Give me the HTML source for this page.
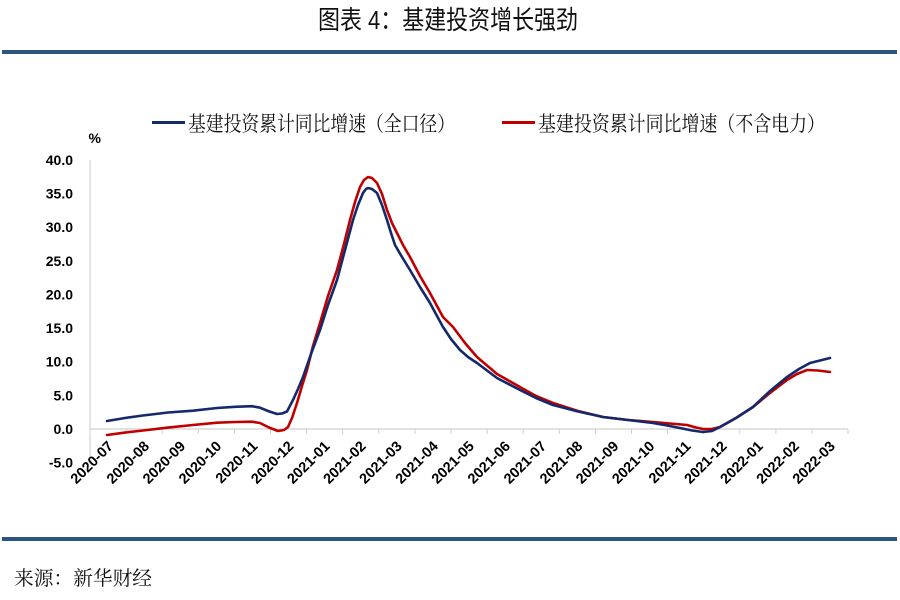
<!DOCTYPE html>
<html>
<head>
<meta charset="utf-8">
<style>
html,body{margin:0;padding:0;background:#fff;}
body{width:900px;height:600px;overflow:hidden;}
svg{display:block;}
.yl{font-family:"Liberation Sans",sans-serif;font-weight:bold;font-size:14px;fill:#000;text-anchor:end;}
.xl{font-family:"Liberation Sans",sans-serif;font-weight:bold;font-size:14.5px;fill:#000;text-anchor:end;}
.cjk{font-family:"Noto Serif CJK SC","Liberation Serif",serif;fill:#111;}
.ttl{font-family:"Liberation Sans","Noto Sans CJK SC",sans-serif;fill:#111;}
</style>
</head>
<body>
<svg width="900" height="600" viewBox="0 0 900 600" xmlns="http://www.w3.org/2000/svg">
<rect x="0" y="0" width="900" height="600" fill="#fff"/>
<!-- title -->
<text class="ttl" x="318" y="29" font-size="26" textLength="260" lengthAdjust="spacingAndGlyphs">图表 4：基建投资增长强劲</text>
<rect x="2" y="50" width="895" height="4" fill="#2a5580"/>
<!-- legend -->
<line x1="152" y1="122.5" x2="185" y2="122.5" stroke="#13296b" stroke-width="3"/>
<text class="cjk" x="188" y="131" font-size="21" textLength="267" lengthAdjust="spacingAndGlyphs">基建投资累计同比增速（全口径）</text>
<line x1="502" y1="122.5" x2="535" y2="122.5" stroke="#c00000" stroke-width="3"/>
<text class="cjk" x="538" y="131" font-size="21" textLength="287" lengthAdjust="spacingAndGlyphs">基建投资累计同比增速（不含电力）</text>
<!-- % -->
<text class="yl" x="101" y="143" style="text-anchor:end">%</text>
<!-- y axis -->
<line x1="90" y1="160" x2="90" y2="462" stroke="#c8c8c8" stroke-width="1"/>
<text class="yl" x="73" y="165">40.0</text>
<text class="yl" x="73" y="198.6">35.0</text>
<text class="yl" x="73" y="232.2">30.0</text>
<text class="yl" x="73" y="265.8">25.0</text>
<text class="yl" x="73" y="299.5">20.0</text>
<text class="yl" x="73" y="333.1">15.0</text>
<text class="yl" x="73" y="366.7">10.0</text>
<text class="yl" x="73" y="400.4">5.0</text>
<text class="yl" x="73" y="434">0.0</text>
<text class="yl" x="73" y="467.6">-5.0</text>
<!-- x axis -->
<line x1="90" y1="429" x2="848" y2="429" stroke="#d0d0d0" stroke-width="1.2"/>
<g stroke="#d0d0d0" stroke-width="1">
<line x1="90" y1="429" x2="90" y2="434"/>
<line x1="126.1" y1="429" x2="126.1" y2="434"/>
<line x1="162.2" y1="429" x2="162.2" y2="434"/>
<line x1="198.3" y1="429" x2="198.3" y2="434"/>
<line x1="234.4" y1="429" x2="234.4" y2="434"/>
<line x1="270.5" y1="429" x2="270.5" y2="434"/>
<line x1="306.6" y1="429" x2="306.6" y2="434"/>
<line x1="342.7" y1="429" x2="342.7" y2="434"/>
<line x1="378.8" y1="429" x2="378.8" y2="434"/>
<line x1="414.9" y1="429" x2="414.9" y2="434"/>
<line x1="451" y1="429" x2="451" y2="434"/>
<line x1="487.1" y1="429" x2="487.1" y2="434"/>
<line x1="523.2" y1="429" x2="523.2" y2="434"/>
<line x1="559.3" y1="429" x2="559.3" y2="434"/>
<line x1="595.4" y1="429" x2="595.4" y2="434"/>
<line x1="631.5" y1="429" x2="631.5" y2="434"/>
<line x1="667.6" y1="429" x2="667.6" y2="434"/>
<line x1="703.7" y1="429" x2="703.7" y2="434"/>
<line x1="739.8" y1="429" x2="739.8" y2="434"/>
<line x1="775.9" y1="429" x2="775.9" y2="434"/>
<line x1="812" y1="429" x2="812" y2="434"/>
<line x1="848" y1="429" x2="848" y2="434"/>
</g>
<!-- x labels -->
<g>
<text class="xl" transform="translate(114,447) rotate(-45)">2020-07</text>
<text class="xl" transform="translate(150.1,447) rotate(-45)">2020-08</text>
<text class="xl" transform="translate(186.2,447) rotate(-45)">2020-09</text>
<text class="xl" transform="translate(222.3,447) rotate(-45)">2020-10</text>
<text class="xl" transform="translate(258.4,447) rotate(-45)">2020-11</text>
<text class="xl" transform="translate(294.5,447) rotate(-45)">2020-12</text>
<text class="xl" transform="translate(330.6,447) rotate(-45)">2021-01</text>
<text class="xl" transform="translate(366.7,447) rotate(-45)">2021-02</text>
<text class="xl" transform="translate(402.8,447) rotate(-45)">2021-03</text>
<text class="xl" transform="translate(438.9,447) rotate(-45)">2021-04</text>
<text class="xl" transform="translate(475,447) rotate(-45)">2021-05</text>
<text class="xl" transform="translate(511.1,447) rotate(-45)">2021-06</text>
<text class="xl" transform="translate(547.2,447) rotate(-45)">2021-07</text>
<text class="xl" transform="translate(583.3,447) rotate(-45)">2021-08</text>
<text class="xl" transform="translate(619.4,447) rotate(-45)">2021-09</text>
<text class="xl" transform="translate(655.5,447) rotate(-45)">2021-10</text>
<text class="xl" transform="translate(691.6,447) rotate(-45)">2021-11</text>
<text class="xl" transform="translate(727.7,447) rotate(-45)">2021-12</text>
<text class="xl" transform="translate(763.8,447) rotate(-45)">2022-01</text>
<text class="xl" transform="translate(799.9,447) rotate(-45)">2022-02</text>
<text class="xl" transform="translate(836,447) rotate(-45)">2022-03</text>
</g>
<!-- series -->
<polyline fill="none" stroke="#c00000" stroke-width="2.6" stroke-linejoin="round" stroke-linecap="round"
points="107,435 125,432.6 143,430.5 168,427.6 193,425 217,422.7 235,422 252,421.7 260,423 269,427.5 278,431 284,430 288,427 292,418 297,403 302,386 307,370 313,346 320,323 328,296 337,270 344,244 350,220 355,202 360,187 364,180 368,177 372,178 377,183 382,194 387,210 392,223 397,233 403,245 410,257 420,276 430,293 437,306 443,317 453,327 465,343 477,357 497,374 520,387 536,396 553,403 578,411 603,417 628,420 653,422 670,423.5 687,425 696,427.5 703,429 712,429 720,427 736,418 753,407 770,393 787,380 797,374 807,370 818,370.5 830,372"/>
<polyline fill="none" stroke="#13296b" stroke-width="2.6" stroke-linejoin="round" stroke-linecap="round"
points="107,421 125,418 143,415.5 168,412.5 193,410.7 217,408 235,406.8 252,406.2 260,407.7 268,411 277,414 282,413.5 287,411.5 293,400 298,389 303,377 311,354 320,330 328,305 337,280 345,250 353,220 358,205 363,193 366,189 368,188 372,189 377,193 382,205 387,220 391,233 395,245 402,257 410,270 420,287 430,303 437,316 443,327 451,339 460,350 468,357 477,363 497,378 520,390 536,398 553,405 578,411.5 603,417 628,420 653,423 667,425.5 680,428 692,430.5 703,432 712,431 720,427 736,418 753,407 770,391 787,377 799,369 810,363 820,360.5 830,358"/>
<!-- bottom rule & source -->
<rect x="2" y="537" width="895" height="4" fill="#2a5580"/>
<text class="cjk" x="14" y="585" font-size="20" textLength="138" lengthAdjust="spacingAndGlyphs">来源：新华财经</text>
</svg>
</body>
</html>
